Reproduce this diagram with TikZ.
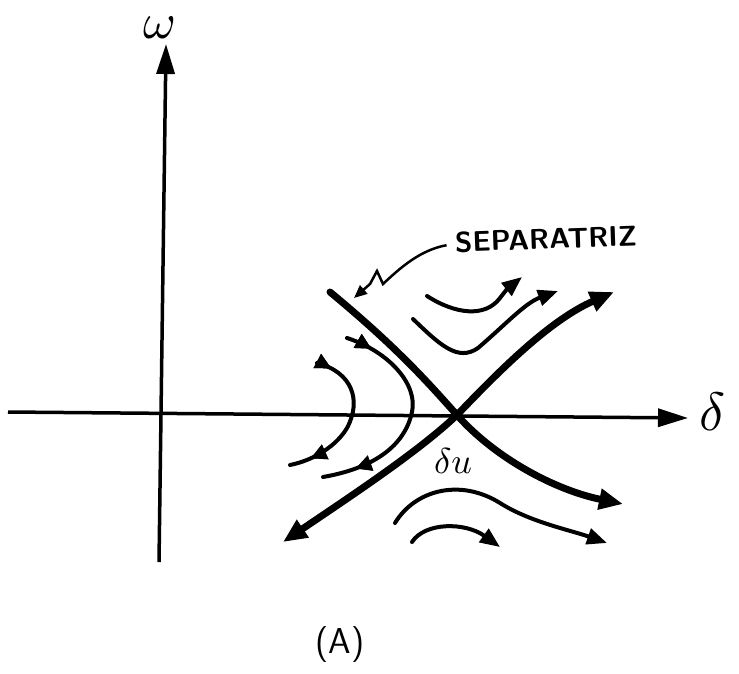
\documentclass[tikz,border=0pt]{standalone}
\usetikzlibrary{arrows.meta,decorations.markings}

\begin{document}
\begin{tikzpicture}[x=1pt,y=-1pt,
    axis/.style={line width=3.5pt,-{Triangle[length=30pt,width=18pt]}},
    sepline/.style={line width=7pt,line cap=round},
    traj/.style={line width=4pt,line cap=round},
    tip/.style={-{Triangle[length=20pt,width=16pt]}},
    septip/.style={-{Triangle[length=24pt,width=20pt]}},
    midtip/.style={postaction={decorate},decoration={markings,
        mark=at position #1 with {\arrow{Triangle[length=16pt,width=15pt]}}}},
    bigtext/.style={inner sep=0pt,scale=#1}]
\useasboundingbox (0,0) rectangle (739,673);

    % axes
\draw[axis] (159,562) -- (166,44);
\draw[axis] (8,412) -- (688,418);
\node[bigtext=5] (omega) at (160,28) {$\omega$};
\node[bigtext=5.4] (delta) at (713,412) {$\delta$};

    % separatrices through the saddle
\draw[sepline,septip] (330,292) .. controls (400,350) and (430,385) .. (457,415)
    .. controls (495,458) and (555,490) .. (623,504);
\draw[sepline,{Triangle[length=24pt,width=20pt]}-{Triangle[length=24pt,width=20pt]}]
    (283,542) .. controls (360,490) and (420,450) .. (457,415)
    .. controls (500,370) and (550,320) .. (614,292);

    % trajectories, left
\draw[traj,midtip=0.1,midtip=0.86] (317,363) .. controls (352,372) and (362,400) .. (347,428)
    .. controls (337,445) and (315,460) .. (290,465);
\draw[traj,midtip=0.12,midtip=0.85] (347,338) .. controls (390,352) and (418,385) .. (412,412)
    .. controls (405,445) and (375,468) .. (323,477);

    % trajectories, above
\draw[traj,tip] (427,296) .. controls (455,314) and (485,318) .. (500,298)
    .. controls (507,289) .. (522,277);
\draw[traj,tip] (413,319) .. controls (440,345) and (458,362) .. (478,348)
    .. controls (505,325) and (525,303) .. (558,291);

    % trajectories, below
\draw[traj,tip] (395,523) .. controls (415,490) and (460,478) .. (500,503)
    .. controls (530,522) and (570,530) .. (607,543);
\draw[traj,tip] (412,542) .. controls (425,522) and (465,522) .. (500,547);

    % labels
\node[font=\sffamily\bfseries, bigtext=2.85, rotate=2] (seplabel) at (546,239) {SEPARATRIZ};
\draw[line width=2.5pt,-{Triangle[length=13pt,width=11pt]}] (seplabel.west) ++(-8,3)
    .. controls (420,250) and (400,268) .. (383,284) -- (377,271) -- (370,284) -- (354,298);
\node[bigtext=3.6] (du) at (453,461) {$\delta u$};
\node[font=\sffamily\fontsize{36}{36}\selectfont] (caption) at (340,645) {(A)};

\end{tikzpicture}
\end{document}
